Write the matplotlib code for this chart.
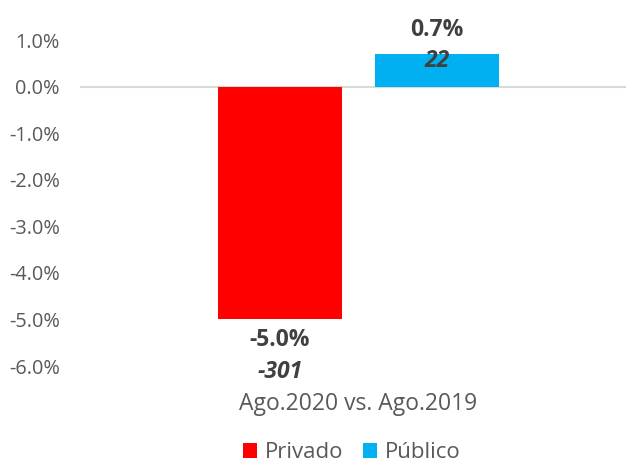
import matplotlib
matplotlib.use("Agg")
import matplotlib.pyplot as plt
from matplotlib.patches import Patch

# Data
category = "Ago.2020 vs. Ago.2019"
series = ["Privado", "Público"]
pct_change = [-5.0, 0.7]          # % variation
abs_change = [-301, 22]           # absolute variation
colors = ["#FF0000", "#00B0F0"]
yticks = [1, 0, -1, -2, -3, -4, -5, -6]

plt.rcParams["font.family"] = ["Open Sans", "DejaVu Sans"]

W, H = 626, 466
fig = plt.figure(figsize=(W / 100, H / 100), dpi=100)

left, right, top, bottom = 80, 626, 20, 366
ax = fig.add_axes([left / W, 1 - bottom / H, (right - left) / W, (bottom - top) / H])

unit = 157.0  # pixels per x data unit
center_px = 358.5
ax.set_xlim(-(center_px - left) / unit, (right - center_px) / unit)
ymin = -6.0
ymax = (86 - top) / 46.0
ax.set_ylim(ymin, ymax)

xs = [-0.5, 0.5]
bw = 124 / unit
ax.bar(xs, pct_change, width=bw, color=colors, zorder=2)
ax.axhline(0, color="#D9D9D9", lw=1.5, zorder=1)

label_color = "#404040"
lab_size = 16.5
for x, p, a in zip(xs, pct_change, abs_change):
    if p >= 0:
        offs = (24, -7)
    else:
        offs = (-21, -53)
    ax.annotate(f"{p:.1f}%", (x, p), xytext=(0, offs[0]), textcoords="offset pixels",
                ha="center", va="center", fontsize=lab_size, fontweight="bold",
                color=label_color, annotation_clip=False)
    ax.annotate(f"{a}", (x, p), xytext=(0, offs[1]), textcoords="offset pixels",
                ha="center", va="center", fontsize=lab_size, fontweight="bold",
                fontstyle="italic", color=label_color, annotation_clip=False)

ax.set_yticks(yticks)
ax.set_yticklabels([f"{v:.1f}%" for v in yticks])
ax.tick_params(axis="y", length=0, pad=14.4, labelsize=14.3, labelcolor="#595959")
ax.set_xticks([])
for s in ax.spines.values():
    s.set_visible(False)

fig.text(center_px / W, 1 - 404 / H, category, ha="center", va="center",
         fontsize=16.5, color="#595959")

handles = [Patch(facecolor=c, edgecolor="none") for c in colors]
fig.legend(handles, series, loc="center", bbox_to_anchor=(352 / W, 1 - 453 / H),
           ncol=2, frameon=False, fontsize=16, labelcolor="#595959",
           handlelength=0.62, handleheight=0.62, handletextpad=0.35,
           columnspacing=0.9, borderpad=0.1)

fig.savefig("out.png", dpi=100)
